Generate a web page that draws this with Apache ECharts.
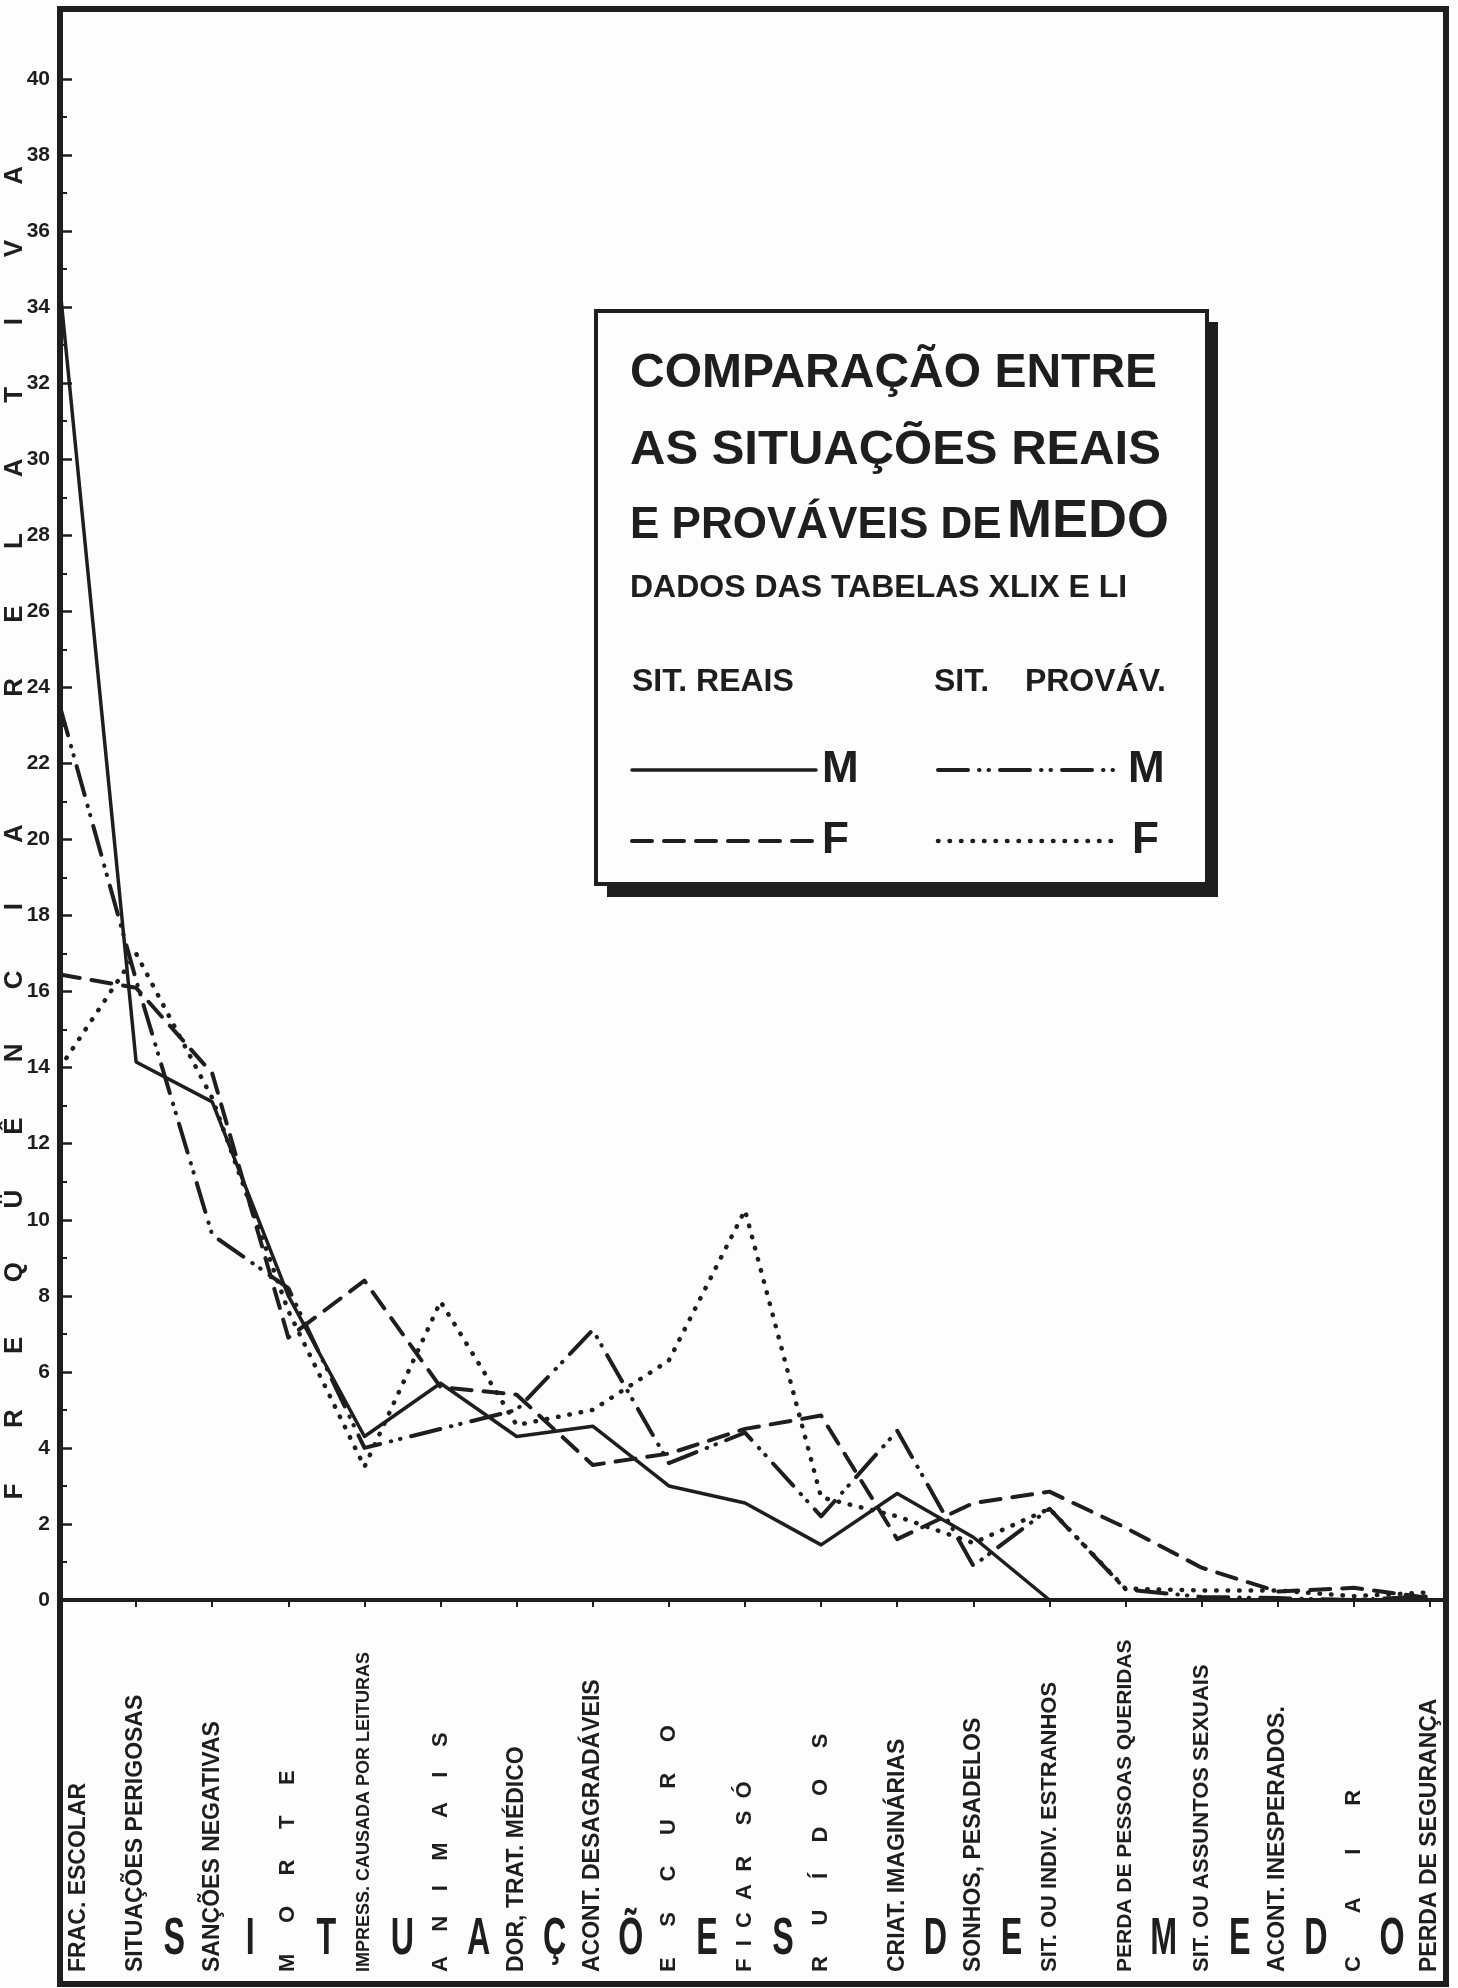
<!DOCTYPE html>
<html><head><meta charset="utf-8">
<script src="https://cdn.jsdelivr.net/npm/echarts@6/dist/echarts.min.js"></script>
<style>html,body{margin:0;padding:0;background:#fdfdfd}#main{width:1458px;height:1988px}</style>
</head><body><div id="main"></div>
<script>
// ---------- data ----------
const categories = ['FRAC. ESCOLAR', 'SITUAÇÕES PERIGOSAS', 'SANÇÕES NEGATIVAS', 'MORTE',
  'IMPRESS. CAUSADA POR LEITURAS', 'ANIMAIS', 'DOR, TRAT. MÉDICO', 'ACONT. DESAGRADÁVEIS',
  'ESCURO', 'FICAR SÓ', 'RUÍDOS', 'CRIAT. IMAGINÁRIAS', 'SONHOS, PESADELOS',
  'SIT. OU INDIV. ESTRANHOS', 'PERDA DE PESSOAS QUERIDAS', 'SIT. OU ASSUNTOS SEXUAIS',
  'ACONT. INESPERADOS.', 'CAIR', 'PERDA DE SEGURANÇA'];
const sitReaisM = [34.5, 14.15, 13.1, 8.0, 4.3, 5.7, 4.3, 4.57, 3.0, 2.55, 1.45, 2.8, 1.65, 0, 0, 0, 0, 0, 0];
const sitReaisF = [16.45, 16.1, 13.85, 6.9, 8.4, 5.6, 5.4, 3.55, 3.85, 4.5, 4.85, 1.6, 2.55, 2.85, 1.9, 0.85, 0.22, 0.32, 0.05];
const sitProvM  = [23.5, 16.3, 9.6, 8.2, 4.0, 4.5, 5.0, 7.1, 3.6, 4.4, 2.2, 4.45, 0.9, 2.4, 0.28, 0.08, 0.05, 0.0, 0.1];
const sitProvF  = [14.0, 17.0, 13.2, 7.6, 3.5, 7.85, 4.6, 5.0, 6.3, 10.25, 2.7, 2.2, 1.5, 2.4, 0.3, 0.25, 0.25, 0.1, 0.2];
const seriesNames = ['SIT. REAIS M', 'SIT. REAIS F', 'SIT. PROVÁV. M', 'SIT. PROVÁV. F'];
const titleLines = ['COMPARAÇÃO ENTRE', 'AS SITUAÇÕES REAIS', 'E PROVÁVEIS DE', 'MEDO', 'DADOS DAS TABELAS XLIX E LI'];
const legendHeads = ['SIT. REAIS', 'SIT.', 'PROVÁV.'];
const legendKeys = ['M', 'F'];
const yAxisTitle = 'FREQÜÊNCIA RELATIVA';
const bottomWord = 'SITUAÇÕES DE MEDO';

// ---------- style ----------
const letterGaps = [0, 0, 0, 5, 0, 4, 0, 0, 5, 2, 5, 0, 0, 0, 0, 0, 0, 7, 0];
const INK = '#1e1e1e';
const FONT = '"Liberation Sans", Arial, sans-serif';
const DASH_F = [20, 12];
const DASHDOT = [30, 11, 0.5, 9, 0.5, 11];
const DOTS = [0.5, 11];

function spaced(s, n) { return n ? s.split('').join(' '.repeat(n)) : s; }
function labelSize(s, n) { return n ? 22 : Math.min(23, Math.round(330 / (0.62 * s.length))); }

const chart = echarts.init(document.getElementById('main'));

function lineSeries(name, data, type, width) {
  return { name, type: 'line', data, symbol: 'none', smooth: false, silent: true,
    lineStyle: { color: INK, width, type, cap: 'round', join: 'round' } };
}

const option = {
  backgroundColor: '#fdfdfd',
  animation: false,
  grid: { left: 60, right: 28, top: 79, bottom: 388, containLabel: false, outerBoundsMode: 'none' },
  xAxis: {
    type: 'category', boundaryGap: false,
    data: categories.map((c, i) => ({
      value: c,
      textStyle: i === 0
        ? { fontSize: labelSize(c, 0), align: 'left', verticalAlign: 'top', padding: [7, 0, 0, 0] }
        : { fontSize: labelSize(c, letterGaps[i]), align: 'left', verticalAlign: 'middle' }
    })),
    axisLine: { lineStyle: { color: INK, width: 4 } },
    axisTick: { show: true, inside: false, length: 7, alignWithLabel: true, lineStyle: { color: INK, width: 2 } },
    axisLabel: { interval: 0, rotate: 90, align: 'left', margin: 372, color: INK,
      fontFamily: FONT, fontWeight: 'bold', formatter: (v, i) => spaced(v, letterGaps[i]) },
    splitLine: { show: false }
  },
  yAxis: {
    type: 'value', min: 0, max: 40, interval: 2,
    axisLine: { show: true, lineStyle: { color: INK, width: 6 } },
    axisTick: { show: true, inside: true, length: 12, lineStyle: { color: INK, width: 2.5 } },
    minorTick: { show: true, splitNumber: 2, length: 7, lineStyle: { color: INK, width: 2 } },
    axisLabel: { color: INK, fontFamily: FONT, fontWeight: 'bold', fontSize: 21, margin: 10 },
    splitLine: { show: false }
  },
  series: [
    lineSeries(seriesNames[3], sitProvF, DOTS, 4.5),
    lineSeries(seriesNames[2], sitProvM, DASHDOT, 4),
    lineSeries(seriesNames[1], sitReaisF, DASH_F, 4),
    lineSeries(seriesNames[0], sitReaisM, 'solid', 3.5)
  ]
};
chart.setOption(option);

// ---------- decorations computed from the axes ----------
const px0 = chart.convertToPixel({ xAxisIndex: 0 }, categories[0]);
const px1 = chart.convertToPixel({ xAxisIndex: 0 }, categories[1]);
const step = px1 - px0;
const yZero = chart.convertToPixel({ yAxisIndex: 0 }, 0);
const unit = yZero - chart.convertToPixel({ yAxisIndex: 0 }, 1);

function txt(text, x, y, size, align, extra) {
  return Object.assign({
    type: 'text', x, y, z: 100,
    style: { text, fill: INK, fontSize: size, fontWeight: 'bold', fontFamily: FONT,
      align: align || 'left', verticalAlign: 'middle', textAlign: align || 'left', textVerticalAlign: 'middle' }
  }, extra || {});
}
function seg(x1, y1, x2, y2, dash, w) {
  return { type: 'line', z: 100, shape: { x1, y1, x2, y2 },
    style: { stroke: INK, lineWidth: w || 4, lineDash: dash || null, lineCap: 'round' } };
}

const g = [];
// frame
g.push({ type: 'rect', z: 90, shape: { x: 60, y: 9, width: 1386, height: 1975 },
  style: { fill: null, stroke: INK, lineWidth: 6 } });
g.push(seg(60, yZero, 1446, yZero, null, 4));

// large letters along the bottom
bottomWord.split('').forEach((ch, k) => {
  if (ch === ' ') return;
  g.push(txt(ch, px0 + (1.5 + k) * step, yZero + 340, 52, 'center', { scaleX: 0.62 }));
});

// vertical axis title, letter by letter, reading upward
const yTitleBottom = yZero - 2.85 * unit;
const yPitch = 1.923 * unit;
yAxisTitle.split('').forEach((ch, k) => {
  if (ch === ' ') return;
  g.push(txt(ch, 15, yTitleBottom - k * yPitch, 26, 'center', { rotation: Math.PI / 2 }));
});

// legend / title box
g.push({ type: 'rect', z: 95, shape: { x: 607, y: 322, width: 611, height: 575 }, style: { fill: INK } });
g.push({ type: 'rect', z: 96, shape: { x: 596, y: 311, width: 611, height: 573 },
  style: { fill: '#fdfdfd', stroke: INK, lineWidth: 4 } });
g.push(txt(titleLines[0], 630, 374, 48, 'left'));
g.push(txt(titleLines[1], 630, 450, 49, 'left'));
g.push(txt(titleLines[2], 630, 526, 44, 'left'));
g.push(txt(titleLines[3], 1169, 522, 54, 'right'));
g.push(txt(titleLines[4], 630, 588, 32, 'left'));
g.push(txt(legendHeads[0], 632, 682, 32, 'left'));
g.push(txt(legendHeads[1], 934, 682, 32, 'left'));
g.push(txt(legendHeads[2], 1166, 682, 32, 'right'));
g.push(seg(632, 770, 816, 770, null, 3.5));
g.push(txt(legendKeys[0], 822, 770, 44, 'left'));
g.push(seg(632, 841, 812, 841, DASH_F, 4));
g.push(txt(legendKeys[1], 822, 841, 44, 'left'));
g.push(seg(938, 770, 1122, 770, DASHDOT, 4));
g.push(txt(legendKeys[0], 1128, 770, 44, 'left'));
g.push(seg(938, 841, 1122, 841, DOTS, 4.5));
g.push(txt(legendKeys[1], 1132, 841, 44, 'left'));

chart.setOption({ graphic: { elements: g } });
</script></body></html>
